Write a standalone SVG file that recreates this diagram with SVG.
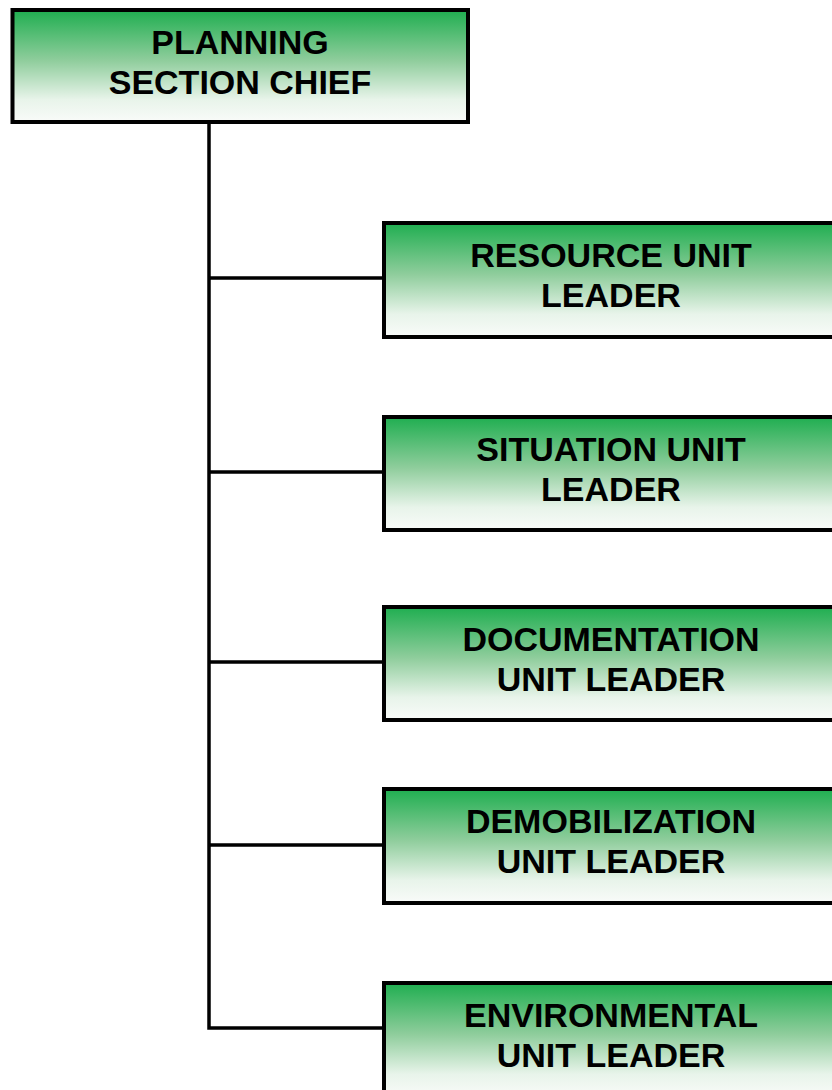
<svg xmlns="http://www.w3.org/2000/svg" width="832" height="1090" viewBox="0 0 832 1090">
<defs>
<linearGradient id="g" x1="0" y1="0" x2="0" y2="1">
<stop offset="0" stop-color="#1fae50"/>
<stop offset="0.45" stop-color="#8fcd9c"/>
<stop offset="0.8" stop-color="#e8f4ea"/>
<stop offset="1" stop-color="#f9fbf9"/>
</linearGradient>
<style>
.box{fill:url(#g);stroke:#000;stroke-width:4}
.t{font-family:"Liberation Sans",Arial,sans-serif;font-weight:bold;font-size:34px;fill:#000;text-anchor:middle}
.c{stroke:#000;stroke-width:3.5;fill:none}
</style>
</defs>
<g id="connectors">
<path class="c" d="M209 122 V1028 H384"/>
<path class="c" d="M209 278 H384 M209 472 H384 M209 662 H384 M209 845 H384"/>
</g>
<g id="planning-section-chief">
<rect class="box" x="12.5" y="10" width="455.5" height="112"/>
<text class="t" x="240" y="54">PLANNING</text>
<text class="t" x="240" y="94">SECTION CHIEF</text>
</g>
<g id="resource-unit-leader">
<rect class="box" x="384" y="223" width="460" height="114"/>
<text class="t" x="611" y="267">RESOURCE UNIT</text>
<text class="t" x="611" y="307">LEADER</text>
</g>
<g id="situation-unit-leader">
<rect class="box" x="384" y="417" width="460" height="113"/>
<text class="t" x="611" y="461">SITUATION UNIT</text>
<text class="t" x="611" y="501">LEADER</text>
</g>
<g id="documentation-unit-leader">
<rect class="box" x="384" y="607" width="460" height="113"/>
<text class="t" x="611" y="651">DOCUMENTATION</text>
<text class="t" x="611" y="691">UNIT LEADER</text>
</g>
<g id="demobilization-unit-leader">
<rect class="box" x="384" y="789" width="460" height="114"/>
<text class="t" x="611" y="833">DEMOBILIZATION</text>
<text class="t" x="611" y="873">UNIT LEADER</text>
</g>
<g id="environmental-unit-leader">
<rect class="box" x="384" y="983" width="460" height="114"/>
<text class="t" x="611" y="1027">ENVIRONMENTAL</text>
<text class="t" x="611" y="1067">UNIT LEADER</text>
</g>
</svg>
